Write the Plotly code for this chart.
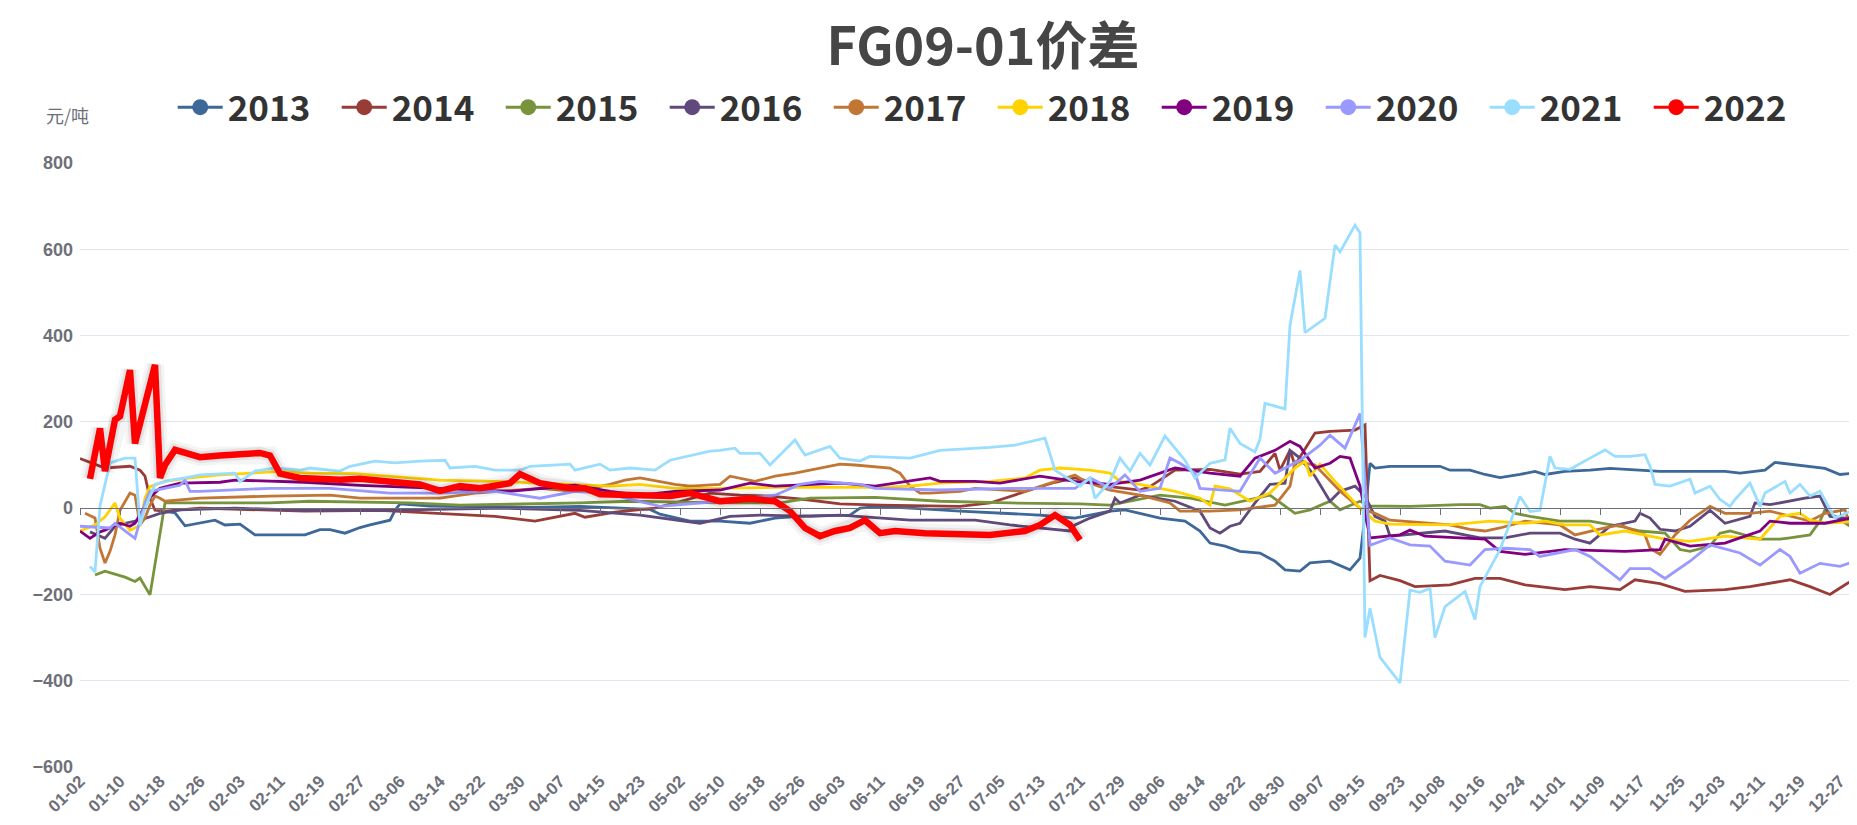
import pandas as pd
import plotly.graph_objects as go

# ---- categories (trading-day union, MM-DD) ----
all_days = pd.date_range("2020-01-01", "2020-12-31").strftime("%m-%d").tolist()
excluded = {"01-01", "05-01"} | {f"10-0{d}" for d in range(1, 8)}
categories = [d for d in all_days if d not in excluded]
tick_labels = categories[::8]
y_ticks = [-600, -400, -200, 0, 200, 400, 600, 800]

years = ["2013", "2014", "2015", "2016", "2017", "2018", "2019", "2020", "2021", "2022"]
colors = ["#3d6899", "#993c38", "#77933c", "#604a7b", "#c27634",
          "#ffd200", "#800080", "#9999ff", "#99ddff", "#ff0000"]

d2013 = ["01-18","01-21","01-23","01-26","01-29","01-31","02-03","02-06","02-11","02-16","02-19","02-21","02-24","02-27","02-29","03-04","03-05","03-06","03-12","03-22","04-01","04-11","04-21","04-25","04-27","05-04","05-10","05-16","05-21","05-27","06-05","06-07","06-11","06-18","06-23","06-27","07-07","07-13","07-20","07-27","07-30","08-02","08-06","08-11","08-14","08-16","08-19","08-22","08-26","08-29","08-31","09-03","09-05","09-09","09-13","09-15","09-16","09-17","09-18","09-21","10-08","10-10","10-14","10-17","10-20","10-24","10-27","10-29","11-02","11-07","11-11","11-21","11-27","12-04","12-07","12-12","12-14","12-17","12-24","12-27","12-29","12-31"]
v2013 = [-5,-11,-41,-35,-28,-39,-37,-62,-62,-62,-50,-50,-58,-45,-39,-28,-5,10,5,3,2,4,0,-3,-14,-30,-30,-35,-23,-18,-16,0,4,0,-4,-7,-12,-16,-23,-7,-4,-12,-23,-30,-53,-81,-88,-100,-104,-123,-143,-146,-127,-123,-143,-116,-16,104,93,97,97,88,88,78,71,78,85,78,85,88,92,85,85,85,81,88,106,102,92,78,80,95]

d2014 = ["01-02","01-04","01-07","01-12","01-14","01-15","01-16","01-17","01-19","01-26","02-09","02-16","03-02","03-25","03-28","04-02","04-10","04-12","04-18","04-26","05-02","05-08","05-14","05-20","05-27","06-03","06-11","06-21","06-27","07-03","07-09","07-11","07-16","07-20","07-27","08-02","08-04","08-09","08-16","08-22","08-26","08-29","08-30","09-01","09-02","09-05","09-06","09-09","09-14","09-16","09-17","09-19","09-23","09-26","10-10","10-15","10-20","10-25","11-02","11-07","11-13","11-16","11-21","11-26","12-04","12-09","12-17","12-21","12-25","12-27","12-31"]
v2014 = [115,106,93,97,88,74,23,-5,-7,0,-4,-7,-5,-19,-23,-30,-12,-21,-9,0,15,35,30,28,20,10,7,5,4,12,35,42,60,70,50,42,50,88,90,79,85,127,88,134,100,155,174,178,181,193,-168,-156,-168,-182,-178,-163,-163,-178,-189,-182,-189,-166,-175,-193,-189,-182,-166,-182,-200,-185,-156]

d2015 = ["01-05","01-07","01-11","01-13","01-14","01-16","01-19","01-27","02-09","02-17","03-08","03-18","04-11","04-21","05-10","05-22","05-28","06-10","06-23","07-07","07-21","07-27","08-06","08-12","08-19","08-28","09-02","09-05","09-09","09-11","09-15","09-17","09-25","10-12","10-16","10-18","10-21","10-23","10-26","11-01","11-07","11-13","11-17","11-22","11-25","11-27","12-01","12-03","12-05","12-11","12-15","12-17","12-21","12-23","12-24","12-29","12-31"]
v2015 = [-155,-146,-160,-170,-162,-201,12,12,12,16,12,7,12,16,12,12,23,25,16,12,10,7,30,23,7,30,-12,-4,16,-4,16,5,4,8,8,0,4,-12,-19,-30,-30,-42,-53,-58,-96,-100,-88,-58,-53,-72,-72,-69,-62,-30,-4,-42,-46]

d2016 = ["01-04","01-07","01-09","01-11","01-14","01-18","01-22","02-02","02-16","03-02","03-27","04-11","04-23","04-30","05-06","05-12","05-18","05-28","06-03","06-17","06-30","07-07","07-13","07-19","07-20","07-23","07-27","07-28","07-29","08-02","08-09","08-14","08-16","08-18","08-20","08-22","08-25","08-28","08-31","09-01","09-03","09-06","09-09","09-11","09-14","09-16","09-18","09-20","09-21","09-28","10-09","10-16","10-21","10-26","11-01","11-04","11-07","11-11","11-16","11-17","11-19","11-21","11-24","11-27","12-01","12-04","12-09","12-10","12-13","12-20","12-23","12-25","12-28","12-31"]
v2016 = [-55,-70,-42,-35,-28,-12,-4,0,-5,-5,0,-5,-16,-28,-35,-19,-16,-19,-16,-28,-28,-39,-46,-53,-39,-23,-7,23,12,30,16,-7,-46,-58,-42,-35,12,55,58,134,116,74,16,39,51,28,-19,-30,-65,-58,-53,-69,-69,-58,-58,-72,-81,-42,-30,-12,-23,-49,-53,-42,-5,-35,-19,12,8,23,28,-19,-23,-19]

d2017 = ["01-03","01-05","01-06","01-07","01-08","01-09","01-10","01-12","01-13","01-14","01-15","01-16","01-17","01-18","01-19","01-26","02-09","02-21","02-27","03-14","03-21","04-03","04-10","04-17","04-20","04-23","04-30","05-04","05-10","05-12","05-17","05-21","05-25","05-30","06-03","06-06","06-09","06-13","06-15","06-17","06-19","06-21","06-27","06-30","07-10","07-20","07-22","07-27","08-02","08-08","08-10","08-16","08-22","08-29","09-01","09-02","09-06","09-11","09-15","09-18","09-21","09-28","10-10","10-14","10-17","10-20","10-25","11-01","11-04","11-10","11-13","11-18","11-19","11-21","11-24","11-27","12-01","12-04","12-09","12-13","12-21","12-24","12-28","12-30","12-31"]
v2017 = [-12,-23,-93,-127,-100,-62,-5,35,30,-39,-23,7,28,23,16,23,28,30,23,23,35,46,39,55,65,70,55,51,55,74,62,74,81,93,102,100,97,93,81,51,35,35,39,46,39,77,62,42,30,12,-7,-7,-4,7,51,108,100,40,0,-12,-28,-35,-39,-49,-53,-46,-30,-39,-62,-46,-39,-62,-93,-107,-62,-28,4,-12,-12,-7,-30,-12,-4,-77,-50]

d2018 = ["01-02","01-05","01-07","01-09","01-10","01-12","01-14","01-15","01-16","01-19","01-24","01-30","02-11","02-17","02-26","03-08","03-14","03-25","04-03","04-17","04-23","04-30","05-10","05-22","06-11","06-17","06-23","07-03","07-10","07-13","07-17","07-23","07-27","07-29","08-02","08-09","08-14","08-16","08-17","08-20","08-24","08-28","09-02","09-04","09-05","09-07","09-10","09-15","09-18","09-21","10-10","10-18","10-25","10-29","11-02","11-07","11-09","11-14","11-19","11-22","11-27","12-04","12-11","12-13","12-15","12-19","12-21","12-24","12-31"]
v2018 = [-53,-39,-20,12,-23,-51,-40,23,50,62,70,77,85,81,80,70,65,62,58,51,55,46,46,48,48,51,58,62,70,88,93,88,81,62,55,39,23,7,51,45,16,35,93,109,74,102,62,0,-30,-37,-39,-30,-35,-30,-39,-39,-62,-53,-65,-72,-77,-65,-72,-46,-19,-12,-28,-35,-30]

d2019 = ["01-02","01-04","01-06","01-07","01-10","01-12","01-13","01-16","01-18","01-22","01-30","02-02","02-16","02-27","03-14","03-28","04-10","04-17","04-23","04-30","05-10","05-16","05-21","06-03","06-10","06-21","06-23","06-30","07-05","07-13","07-20","07-27","08-02","08-06","08-09","08-16","08-22","08-25","08-29","09-01","09-03","09-06","09-09","09-11","09-13","09-15","09-17","09-23","09-25","09-28","10-13","10-17","10-20","10-25","11-02","11-14","11-21","11-22","11-27","12-04","12-07","12-11","12-13","12-17","12-24","12-31"]
v2019 = [-53,-70,-55,-51,-35,-42,-35,25,46,58,60,65,60,53,46,39,53,39,30,39,42,58,51,58,51,70,62,62,58,74,62,55,65,81,93,81,74,116,134,155,143,93,104,120,116,51,-69,-62,-51,-65,-69,-72,-100,-107,-96,-100,-96,-72,-88,-81,-69,-53,-30,-35,-35,-19]

d2020 = ["01-02","01-08","01-09","01-11","01-13","01-15","01-16","01-22","01-23","01-24","01-26","02-09","02-21","03-04","03-14","03-25","04-03","04-10","04-16","04-27","05-10","05-21","05-26","05-30","06-07","06-10","06-23","07-07","07-20","07-23","07-27","07-30","08-02","08-06","08-08","08-10","08-13","08-14","08-22","08-26","08-29","09-03","09-07","09-09","09-12","09-15","09-17","09-21","09-25","09-29","10-09","10-14","10-17","10-21","10-26","10-28","11-04","11-07","11-13","11-15","11-19","11-22","11-27","12-01","12-07","12-11","12-15","12-17","12-19","12-23","12-27","12-30","12-31"]
v2020 = [-42,-46,-35,-53,-70,12,39,53,65,39,39,46,46,35,35,39,23,39,35,4,16,30,55,62,55,46,42,46,46,70,46,77,39,46,116,104,81,46,39,116,81,111,146,169,139,219,-86,-69,-85,-88,-123,-132,-96,-93,-96,-112,-96,-112,-166,-140,-140,-163,-123,-85,-104,-132,-96,-112,-151,-128,-135,-123,-146]

d2021 = ["01-04","01-05","01-06","01-08","01-11","01-13","01-14","01-15","01-17","01-20","01-23","01-26","02-02","02-03","02-06","02-10","02-15","02-17","02-23","02-25","03-01","03-05","03-10","03-15","03-16","03-21","03-25","03-30","04-01","04-09","04-10","04-15","04-17","04-21","04-26","04-29","05-08","05-10","05-13","05-14","05-18","05-20","05-25","05-27","06-01","06-03","06-07","06-09","06-17","06-23","07-03","07-08","07-14","07-16","07-21","07-23","07-24","07-27","07-29","07-31","08-02","08-04","08-07","08-11","08-13","08-16","08-19","08-20","08-22","08-25","08-26","08-27","08-31","09-01","09-03","09-04","09-08","09-10","09-11","09-14","09-15","09-16","09-17","09-19","09-23","09-25","09-27","09-29","09-30","10-09","10-13","10-15","10-16","10-20","10-24","10-26","10-28","10-30","10-31","11-03","11-07","11-10","11-12","11-15","11-18","11-19","11-20","11-23","11-27","11-28","12-01","12-03","12-05","12-06","12-09","12-11","12-12","12-16","12-17","12-19","12-21","12-23","12-26","12-30","12-31"]
v2021 = [-135,-148,5,105,116,116,-40,0,55,65,70,77,81,62,86,93,88,93,86,97,109,105,109,111,93,97,88,88,97,102,88,102,88,93,88,111,132,134,139,127,127,100,158,123,143,116,109,120,116,134,141,146,162,88,51,70,23,62,116,86,127,100,167,111,70,104,112,185,150,130,160,243,230,424,551,407,440,610,594,656,638,-300,-232,-346,-405,-190,-195,-186,-300,-228,-193,-258,-182,-96,27,-8,-5,120,93,90,116,135,120,120,124,97,55,51,67,35,51,20,4,20,58,4,35,62,35,55,28,39,-23,-3,45]

d2022 = ["01-04","01-06","01-07","01-09","01-10","01-12","01-13","01-17","01-18","01-19","01-21","01-24","01-26","01-30","02-07","02-09","02-11","02-15","02-23","02-27","03-04","03-10","03-14","03-18","03-22","03-28","03-30","04-03","04-09","04-12","04-15","04-23","04-29","05-04","05-10","05-16","05-21","05-24","05-27","05-30","06-02","06-05","06-08","06-11","06-14","06-20","06-27","07-03","07-10","07-13","07-16","07-19","07-21"]
v2022 = [68,185,86,205,213,320,150,332,70,100,135,125,118,122,128,122,80,70,66,68,62,55,40,51,46,58,79,58,46,46,32,30,28,35,16,22,16,-7,-46,-65,-53,-46,-28,-58,-53,-58,-62,-62,-53,-39,-16,-39,-74]

series_x = [d2013, d2014, d2015, d2016, d2017, d2018, d2019, d2020, d2021, d2022]
series_y = [v2013, v2014, v2015, v2016, v2017, v2018, v2019, v2020, v2021, v2022]

GRAY = "#6E7079"
fig = go.Figure()

for yr, col, xs, ys in zip(years, colors, series_x, series_y):
    if yr == "2022":
        for w, a in [(18, 0.045), (12, 0.065)]:
            fig.add_trace(go.Scatter(x=xs, y=ys, mode="lines", showlegend=False,
                                     hoverinfo="skip", legendgroup=yr,
                                     line=dict(color=f"rgba(0,0,0,{a})", width=w)))
        width = 6.5
    else:
        width = 2.8
    fig.add_trace(go.Scatter(x=xs, y=ys, mode="lines", name=yr, legendgroup=yr,
                             showlegend=False, line=dict(color=col, width=width)))

# legend entries (line + circle icon)
for yr, col in zip(years, colors):
    fig.add_trace(go.Scatter(x=[None], y=[None], mode="lines+markers", name=yr,
                             legendgroup=yr, showlegend=True,
                             line=dict(color=col, width=3),
                             marker=dict(color=col, size=16)))

# invisible trace to carry the zero-line category axis
fig.add_trace(go.Scatter(x=[categories[0]], y=[None], xaxis="x2", mode="lines",
                         showlegend=False, hoverinfo="skip"))

x_range = [0, len(categories) - 0.4]

fig.update_layout(
    width=1857, height=825,
    margin=dict(l=72, r=2, t=155, b=66),
    paper_bgcolor="white", plot_bgcolor="white",
    font=dict(family="Noto Sans CJK SC, Noto Sans, sans-serif", color=GRAY),
    title=dict(text="<b>FG09-01价差</b>", x=0.525, xref="container", xanchor="center",
               y=0.9527, yref="container", yanchor="middle",
               font=dict(size=52, color="#464646", family="Noto Sans CJK SC")),
    legend=dict(orientation="h", x=0.052, xanchor="left", y=1.092, yanchor="middle",
                font=dict(size=35, color="#333333", family="Noto Sans CJK SC", weight="bold"),
                itemwidth=45, entrywidth=104, traceorder="normal",
                bgcolor="rgba(0,0,0,0)"),
    xaxis=dict(type="category", categoryorder="array", categoryarray=categories,
               range=x_range, tickmode="array", tickvals=tick_labels, ticktext=tick_labels,
               tickangle=-45, showgrid=False, showline=False, ticks="", zeroline=False,
               tickfont=dict(size=17, color=GRAY, family="Liberation Sans", weight="bold")),
    xaxis2=dict(type="category", categoryorder="array", categoryarray=categories,
                range=x_range, overlaying="x", anchor="free", position=600 / 1400,
                showline=True, linecolor=GRAY, linewidth=1.2, ticks="outside", ticklen=6,
                tickcolor=GRAY, tickmode="array", tickvals=tick_labels,
                showticklabels=False, showgrid=False, zeroline=False),
    yaxis=dict(range=[-600, 800], tickmode="array", tickvals=y_ticks,
               gridcolor="#E0E6F1", gridwidth=1, zeroline=False, showline=False,
               ticklabelstandoff=6,
               tickfont=dict(size=18, color=GRAY, family="Liberation Sans", weight="bold")),
    annotations=[dict(text="元/吨", x=-0.02, xref="paper", xanchor="left",
                      y=1.079, yref="paper", yanchor="middle", showarrow=False,
                      font=dict(size=18, color=GRAY, family="Noto Sans CJK SC"))],
    hovermode="x",
)

fig.write_html("out.html")
